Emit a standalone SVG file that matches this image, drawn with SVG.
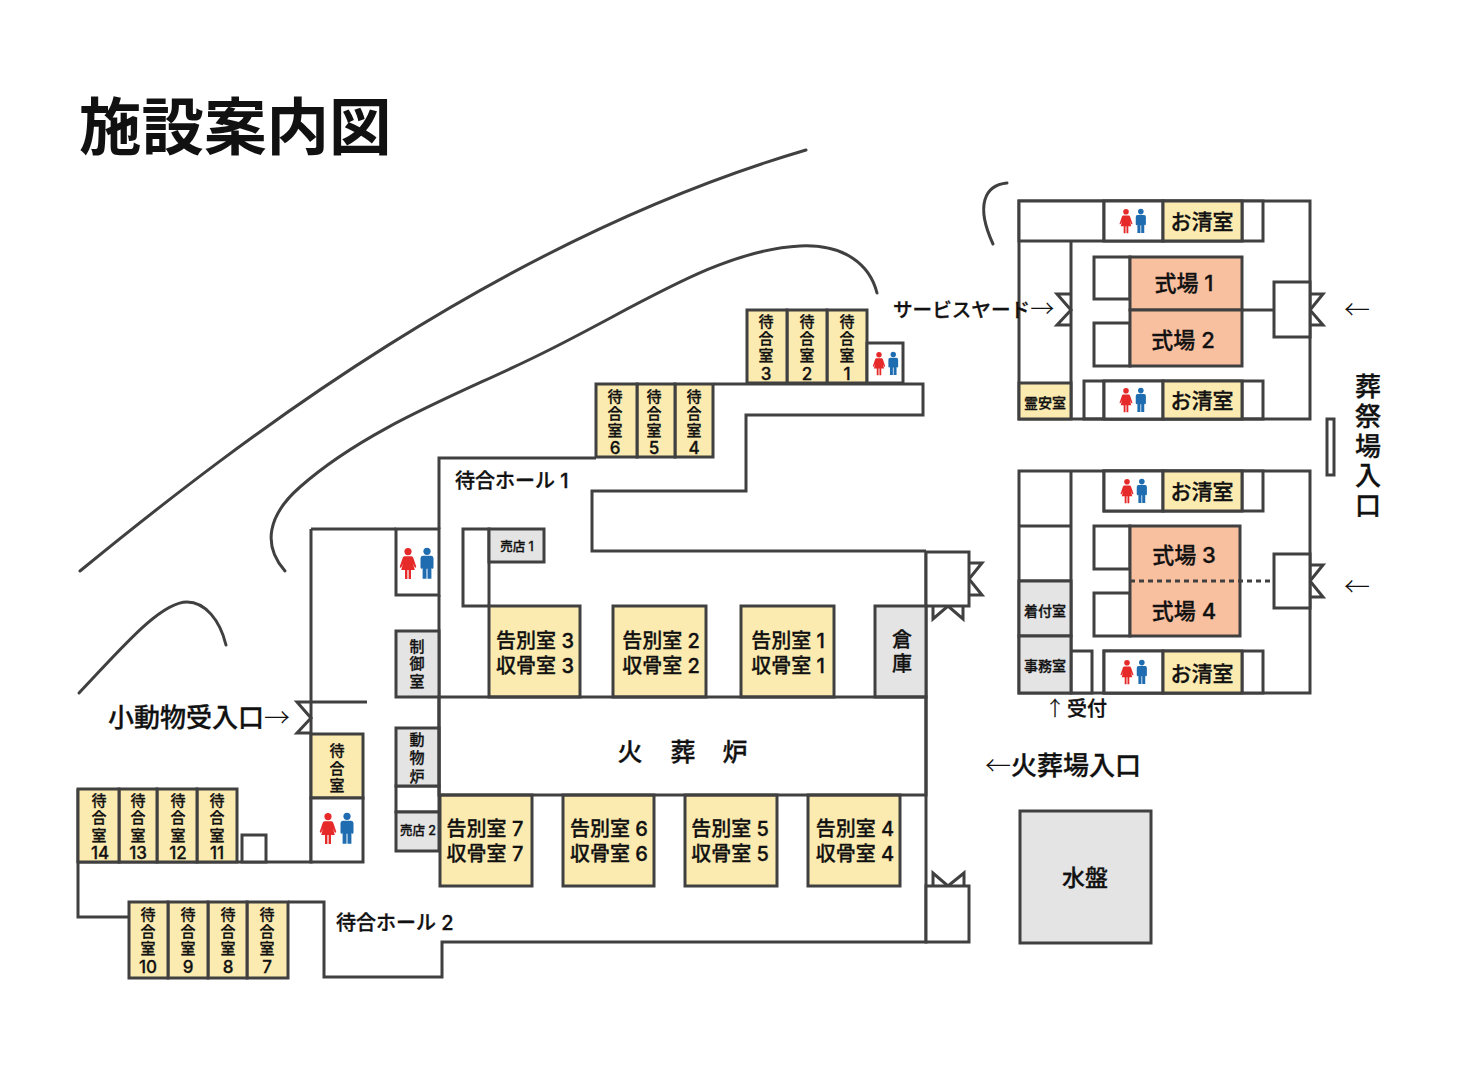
<svg xmlns="http://www.w3.org/2000/svg" width="1460" height="1076" viewBox="0 0 1460 1076">
<style>
text{font-family:"Inter","Noto Sans CJK JP",sans-serif;font-weight:500;fill:#111;stroke:#111;stroke-width:.3}
.m{text-anchor:middle}
.a{font-family:"Noto Sans CJK JP",sans-serif;font-weight:300;stroke:none}
.w{fill:none;stroke:#404040;stroke-width:3;stroke-linejoin:miter}
.b{fill:#fff;stroke:#404040;stroke-width:3}
.y{fill:#fcebb0;stroke:#404040;stroke-width:3}
.s{fill:#f9c0a0;stroke:#404040;stroke-width:3}
.g{fill:#e4e4e4;stroke:#404040;stroke-width:3}
.c{fill:none;stroke:#404040;stroke-width:3;stroke-linecap:round}
.r1{font-size:15px}.r2{font-size:20px}.r3{font-size:21px}.r4{font-size:14px}.r5{font-size:12.5px}.r6{font-size:15px}
.n{font-size:17px}
</style>
<defs>
<g id="wc"><g fill="#e62a2a"><circle cx="0" cy="3.6" r="3.6"/><path d="M-3.2 8.2H3.2C4.5 8.2 5 9 5.5 10.5L8.2 18.5C8.5 19.8 7 20 6.5 19L5 15.5L6.8 22H3V31H.6V22H-.6V31H-3V22H-6.8L-5 15.5L-6.5 19C-7 20-8.5 19.8-8.2 18.5L-5.5 10.5C-5 9-4.5 8.2-3.2 8.2Z"/></g><g fill="#1f6db0" transform="translate(19,-.3)"><circle cx="0" cy="3.6" r="3.6"/><path d="M-4.2 8H4.2Q6.5 8 6.5 10.5V19.5Q6.5 21 5.3 21Q4.4 21 4.4 19.5V31H.5V21H-.5V31H-4.4V19.5Q-4.4 21-5.3 21Q-6.5 21-6.5 19.5V10.5Q-6.5 8-4.2 8Z"/></g></g>
</defs>

<text x="79" y="150" font-size="62.5" style="font-weight:700;stroke:none">施設案内図</text>

<g id="curves">
<path class="c" d="M80 571C240 440 500 240 806 150"/>
<path class="c" d="M285 571C262 545 268 515 300 487C370 425 470 390 545 352C640 305 720 250 800 246C845 244 870 265 877 293"/>
<path class="c" d="M79 693C120 650 160 602 187 602C205 602 220 620 226 645"/>
<path class="c" d="M1007 183C985 185 975 205 993 244"/>
</g>

<g id="connectors">
<path class="w" d="M439 529V458H596M714 384H923V415H746V491H592V551H926M439 595V697M311 529H396M311 702V862H78V917H129M311 529V702H367M288 902H324V977H442V942H926V551M439 697V795"/>
<path class="w" d="M78 789V862"/>
<path class="w" d="M311 702H297L311 718L297 733H311"/>
<path class="w" d="M969 563H982L969 579L982 595H969"/>
<path class="w" d="M933 606V619L948 606L963 619V606"/>
<path class="w" d="M933 886V873L948 886L964 873V886"/>
<path class="w" d="M1071 294H1057L1071 310L1057 325H1071"/>
<path class="w" d="M1310 294H1323L1310 310L1323 325H1310"/>
<path class="w" d="M1310 565H1323L1310 581L1323 597H1310"/>
<path class="w" d="M1242 310H1274"/>
</g>

<g id="hall-rooms">
<rect class="b" x="926" y="552" width="43" height="54"/>
<rect class="b" x="926" y="886" width="43" height="56"/>
<rect class="b" x="242" y="835" width="24" height="27"/>
<rect class="b" x="463" y="529" width="26" height="77"/>
<rect class="b" x="396" y="786" width="43" height="26"/>
</g>

<g id="waiting-1"><rect class="y" x="827" y="310" width="40" height="73"/><text class="m r1"><tspan x="847" y="327">待</tspan><tspan x="847" y="344">合</tspan><tspan x="847" y="361">室</tspan><tspan x="847" y="380" class="n">1</tspan></text></g>
<g id="waiting-2"><rect class="y" x="787" y="310" width="40" height="73"/><text class="m r1"><tspan x="807" y="327">待</tspan><tspan x="807" y="344">合</tspan><tspan x="807" y="361">室</tspan><tspan x="807" y="380" class="n">2</tspan></text></g>
<g id="waiting-3"><rect class="y" x="747" y="310" width="40" height="73"/><text class="m r1"><tspan x="766" y="327">待</tspan><tspan x="766" y="344">合</tspan><tspan x="766" y="361">室</tspan><tspan x="766" y="380" class="n">3</tspan></text></g>
<g id="waiting-4"><rect class="y" x="675" y="384" width="38" height="73"/><text class="m r1"><tspan x="694" y="402">待</tspan><tspan x="694" y="419">合</tspan><tspan x="694" y="436">室</tspan><tspan x="694" y="454" class="n">4</tspan></text></g>
<g id="waiting-5"><rect class="y" x="637" y="384" width="38" height="73"/><text class="m r1"><tspan x="654" y="402">待</tspan><tspan x="654" y="419">合</tspan><tspan x="654" y="436">室</tspan><tspan x="654" y="454" class="n">5</tspan></text></g>
<g id="waiting-6"><rect class="y" x="596" y="384" width="41" height="73"/><text class="m r1"><tspan x="615" y="402">待</tspan><tspan x="615" y="419">合</tspan><tspan x="615" y="436">室</tspan><tspan x="615" y="454" class="n">6</tspan></text></g>
<g id="waiting-7"><rect class="y" x="247" y="902" width="41" height="76"/><text class="m r1"><tspan x="267" y="920">待</tspan><tspan x="267" y="937">合</tspan><tspan x="267" y="954">室</tspan><tspan x="267" y="973" class="n">7</tspan></text></g>
<g id="waiting-8"><rect class="y" x="208" y="902" width="39" height="76"/><text class="m r1"><tspan x="228" y="920">待</tspan><tspan x="228" y="937">合</tspan><tspan x="228" y="954">室</tspan><tspan x="228" y="973" class="n">8</tspan></text></g>
<g id="waiting-9"><rect class="y" x="168" y="902" width="40" height="76"/><text class="m r1"><tspan x="188" y="920">待</tspan><tspan x="188" y="937">合</tspan><tspan x="188" y="954">室</tspan><tspan x="188" y="973" class="n">9</tspan></text></g>
<g id="waiting-10"><rect class="y" x="129" y="902" width="39" height="76"/><text class="m r1"><tspan x="148" y="920">待</tspan><tspan x="148" y="937">合</tspan><tspan x="148" y="954">室</tspan><tspan x="148" y="973" class="n">10</tspan></text></g>
<g id="waiting-11"><rect class="y" x="197" y="789" width="40" height="73"/><text class="m r1"><tspan x="217" y="806">待</tspan><tspan x="217" y="823">合</tspan><tspan x="217" y="841">室</tspan><tspan x="217" y="859" class="n">11</tspan></text></g>
<g id="waiting-12"><rect class="y" x="157" y="789" width="40" height="73"/><text class="m r1"><tspan x="178" y="806">待</tspan><tspan x="178" y="823">合</tspan><tspan x="178" y="841">室</tspan><tspan x="178" y="859" class="n">12</tspan></text></g>
<g id="waiting-13"><rect class="y" x="119" y="789" width="38" height="73"/><text class="m r1"><tspan x="138" y="806">待</tspan><tspan x="138" y="823">合</tspan><tspan x="138" y="841">室</tspan><tspan x="138" y="859" class="n">13</tspan></text></g>
<g id="waiting-14"><rect class="y" x="78" y="789" width="41" height="73"/><text class="m r1"><tspan x="99" y="806">待</tspan><tspan x="99" y="823">合</tspan><tspan x="99" y="841">室</tspan><tspan x="100" y="859" class="n">14</tspan></text></g>
<g id="waiting-a"><rect class="y" x="311" y="734" width="52" height="64"/><text class="m r1"><tspan x="337" y="756">待</tspan><tspan x="337" y="774">合</tspan><tspan x="337" y="791">室</tspan></text></g>

<g id="wc-1"><rect class="b" x="867" y="343" width="36" height="40"/><use href="#wc" transform="translate(879,352) scale(.75)"/></g>
<g id="wc-2"><rect class="b" x="396" y="529" width="43" height="66"/><use href="#wc" transform="translate(408,548)"/></g>
<g id="wc-3"><rect class="b" x="311" y="798" width="52" height="64"/><use href="#wc" transform="translate(328,813)"/></g>

<g id="shop-1"><rect class="g" x="489" y="529" width="55" height="33"/><text class="m r5" x="517" y="551">売店 1</text></g>
<g id="shop-2"><rect class="g" x="396" y="812" width="43" height="39"/><text class="m r5" x="418" y="835">売店 2</text></g>
<g id="control"><rect class="g" x="396" y="631" width="43" height="66"/><text class="m r6"><tspan x="417" y="652">制</tspan><tspan x="417" y="669">御</tspan><tspan x="417" y="687">室</tspan></text></g>
<g id="pet"><rect class="g" x="396" y="728" width="43" height="58"/><text class="m r6"><tspan x="417" y="745">動</tspan><tspan x="417" y="763">物</tspan><tspan x="417" y="782">炉</tspan></text></g>
<g id="store"><rect class="g" x="875" y="606" width="51" height="91"/><text class="m" font-size="20"><tspan x="902" y="647">倉</tspan><tspan x="902" y="671">庫</tspan></text></g>

<g id="farewell-3"><rect class="y" x="489" y="606" width="91" height="91"/><text class="m r2"><tspan x="535" y="648">告別室 3</tspan><tspan x="535" y="673">収骨室 3</tspan></text></g>
<g id="farewell-2"><rect class="y" x="613" y="606" width="93" height="91"/><text class="m r2"><tspan x="661" y="648">告別室 2</tspan><tspan x="661" y="673">収骨室 2</tspan></text></g>
<g id="farewell-1"><rect class="y" x="741" y="606" width="93" height="91"/><text class="m r2"><tspan x="788" y="648">告別室 1</tspan><tspan x="788" y="673">収骨室 1</tspan></text></g>
<g id="farewell-7"><rect class="y" x="440" y="795" width="92" height="91"/><text class="m r2"><tspan x="485" y="836">告別室 7</tspan><tspan x="485" y="861">収骨室 7</tspan></text></g>
<g id="farewell-6"><rect class="y" x="563" y="795" width="91" height="91"/><text class="m r2"><tspan x="609" y="836">告別室 6</tspan><tspan x="609" y="861">収骨室 6</tspan></text></g>
<g id="farewell-5"><rect class="y" x="685" y="795" width="92" height="91"/><text class="m r2"><tspan x="730" y="836">告別室 5</tspan><tspan x="730" y="861">収骨室 5</tspan></text></g>
<g id="farewell-4"><rect class="y" x="808" y="795" width="92" height="91"/><text class="m r2"><tspan x="855" y="836">告別室 4</tspan><tspan x="855" y="861">収骨室 4</tspan></text></g>

<g id="furnace"><rect class="w" x="439" y="697" width="487" height="98"/><text class="m" font-size="25"><tspan x="630" y="761">火</tspan><tspan x="683" y="761">葬</tspan><tspan x="735" y="761">炉</tspan></text></g>

<g id="hall-north">
<rect class="w" x="1019" y="201" width="291" height="218"/>
<rect class="b" x="1019" y="201" width="244" height="40"/>
<path class="w" d="M1071 241V419M1104 201V241M1242 201V241"/>
<rect class="w" x="1084" y="381" width="179" height="38"/>
<path class="w" d="M1104 381V419M1242 381V419"/>
<rect class="b" x="1094" y="257" width="36" height="42"/>
<rect class="b" x="1094" y="323" width="36" height="43"/>
<rect class="b" x="1274" y="282" width="36" height="55"/>
</g>
<g id="wc-4"><rect class="b" x="1104" y="201" width="59" height="40"/><use href="#wc" transform="translate(1126,209) scale(.78)"/></g>
<g id="wash-1"><rect class="y" x="1163" y="201" width="79" height="40"/><text class="m r3" x="1202" y="229">お清室</text></g>
<g id="ceremony-1"><rect class="s" x="1130" y="257" width="112" height="53"/><text class="m" font-size="22" x="1184" y="291">式場 1</text></g>
<g id="ceremony-2"><rect class="s" x="1130" y="310" width="112" height="56"/><text class="m" font-size="22" x="1183" y="348">式場 2</text></g>
<g id="morgue"><rect class="y" x="1019" y="383" width="52" height="36"/><text class="m r4" x="1045" y="408">霊安室</text></g>
<g id="wc-5"><rect class="b" x="1104" y="381" width="59" height="38"/><use href="#wc" transform="translate(1126,388) scale(.78)"/></g>
<g id="wash-2"><rect class="y" x="1163" y="381" width="79" height="38"/><text class="m r3" x="1202" y="408">お清室</text></g>

<g id="pillar"><rect class="b" x="1327" y="419" width="7" height="56"/></g>

<g id="hall-south">
<rect class="w" x="1019" y="471" width="291" height="222"/>
<path class="w" d="M1071 471V693M1019 526H1071M1019 581H1071"/>
<rect class="b" x="1104" y="471" width="159" height="40"/>
<path class="w" d="M1242 471V511"/>
<rect class="b" x="1094" y="526" width="36" height="43"/>
<rect class="b" x="1094" y="593" width="36" height="43"/>
<rect class="b" x="1274" y="554" width="36" height="54"/>
<rect class="b" x="1071" y="651" width="21" height="42"/>
<rect class="b" x="1104" y="651" width="159" height="42"/>
<path class="w" d="M1242 651V693"/>
</g>
<g id="wc-6"><rect class="b" x="1104" y="471" width="59" height="40"/><use href="#wc" transform="translate(1127,479) scale(.78)"/></g>
<g id="wash-3"><rect class="y" x="1163" y="471" width="79" height="40"/><text class="m r3" x="1202" y="499">お清室</text></g>
<g id="ceremony-3"><rect class="s" x="1130" y="526" width="110" height="110"/><path class="w" style="stroke-dasharray:5 4" d="M1130 581H1274"/><text class="m" font-size="22" x="1184" y="563">式場 3</text><text class="m" font-size="22" x="1184" y="619">式場 4</text></g>
<g id="reception"><rect class="g" x="1019" y="581" width="52" height="55"/><text class="m r4" x="1045" y="616">着付室</text></g>
<g id="office"><rect class="g" x="1019" y="636" width="52" height="57"/><text class="m r4" x="1045" y="671">事務室</text></g>
<g id="wc-7"><rect class="b" x="1104" y="651" width="59" height="42"/><use href="#wc" transform="translate(1127,660) scale(.78)"/></g>
<g id="wash-4"><rect class="y" x="1163" y="651" width="79" height="42"/><text class="m r3" x="1202" y="681">お清室</text></g>

<g id="basin"><rect class="g" x="1020" y="811" width="131" height="132"/><text class="m" font-size="23" x="1085" y="886">水盤</text></g>

<g id="labels">
<text x="455" y="488" font-size="20">待合ホール 1</text>
<text x="336" y="930" font-size="20">待合ホール 2</text>
<text x="893" y="317" font-size="19.6">サービスヤード<tspan class="a" font-size="24">→</tspan></text>
<text x="108" y="727" font-size="26">小動物受入口<tspan class="a">→</tspan></text>
<text x="985" y="775" font-size="26"><tspan class="a">←</tspan>火葬場入口</text>
<text x="1045" y="716" font-size="20"><tspan class="a" style="stroke:#111;stroke-width:.3">↑</tspan> <tspan x="1067">受付</tspan></text>
<text x="1344" y="319" font-size="26" class="a">←</text>
<text x="1344" y="596" font-size="26" class="a">←</text>
<text class="m" font-size="26"><tspan x="1368" y="396">葬</tspan><tspan x="1368" y="426">祭</tspan><tspan x="1368" y="456">場</tspan><tspan x="1368" y="485">入</tspan><tspan x="1368" y="515">口</tspan></text>
</g>
</svg>
